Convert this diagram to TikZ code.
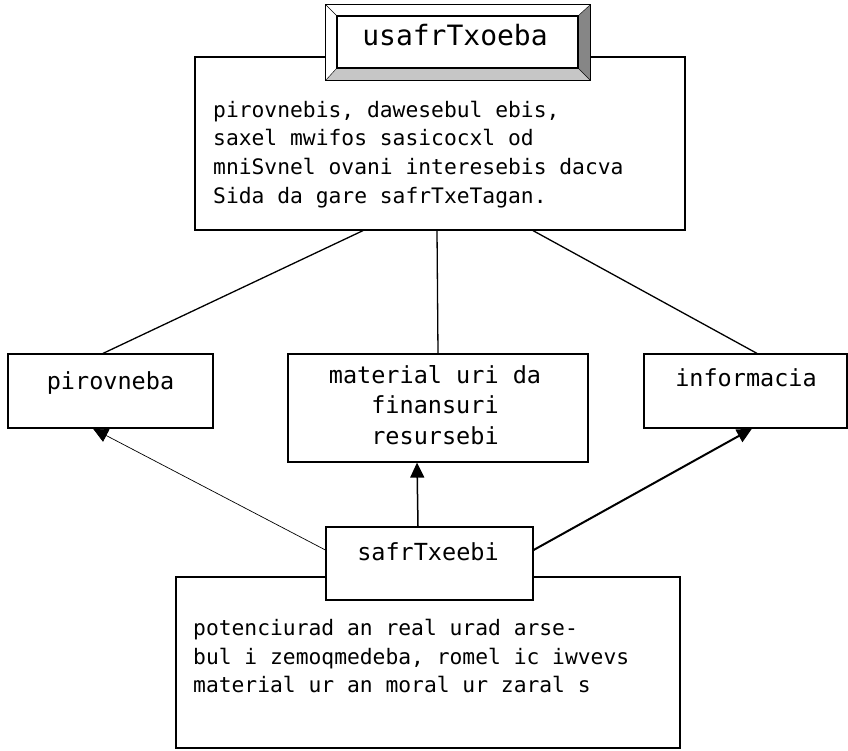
\documentclass[tikz,border=0pt]{standalone}
\usepackage{fontspec}
\setmonofont{DejaVu Sans Mono}
\usetikzlibrary{arrows.meta,positioning}

\begin{document}
\begin{tikzpicture}[x=1pt,y=-1pt,
    box/.style={draw, line width=1.2pt, fill=white, inner sep=0pt},
    link/.style={line width=1.3pt},
    arr/.style={-{Triangle[length=15pt,width=14pt]}},
    bodytext/.style={font=\ttfamily\fontsize{21.3}{28.7}\selectfont, inner sep=0pt, align=left, anchor=north west},
    celltext/.style={font=\ttfamily\fontsize{23.5}{30.5}\selectfont, inner sep=0pt}]
    \useasboundingbox (0,0) rectangle (848,750);
    % top box with bevelled title
    \node[box, minimum width=490pt, minimum height=173pt] (risk) at (440,143.5) {};
    \node[box, minimum width=241pt, minimum height=52pt] (title) at (457.5,42) {};
    \coordinate (oNW) at ([shift={(-11pt,11pt)}]title.north west);
    \coordinate (oNE) at ([shift={(12pt,11pt)}]title.north east);
    \coordinate (oSE) at ([shift={(12pt,-12pt)}]title.south east);
    \coordinate (oSW) at ([shift={(-11pt,-12pt)}]title.south west);
    \fill[white] (oNW) -- (oNE) -- (title.north east) -- (title.north west) -- cycle;
    \fill[white] (oNW) -- (oSW) -- (title.south west) -- (title.north west) -- cycle;
    \fill[gray!95] (oNE) -- (oSE) -- (title.south east) -- (title.north east) -- cycle;
    \fill[gray!45] (oSW) -- (oSE) -- (title.south east) -- (title.south west) -- cycle;
    \draw[line width=1.2pt] (oNW) -- (oNE) -- (oSE) -- (oSW) -- cycle;
    \draw[line width=1.2pt] (title.north west) rectangle (title.south east);
    \draw (oNW) -- (title.north west);
    \draw (oNE) -- (title.north east);
    \draw (oSE) -- (title.south east);
    \draw (oSW) -- (title.south west);
    \node[celltext, font=\ttfamily\fontsize{28}{30}\selectfont, anchor=base] (titleT) at (455,45) {usafrTxoeba};
    \node[bodytext] (riskT) at (213,100.5) {pirovnebis, dawesebul ebis,\\saxel mwifos sasicocxl od\\mniSvnel ovani interesebis dacva\\Sida da gare safrTxeTagan.};
    % middle row
    \node[box, minimum width=205pt, minimum height=74pt] (pers) at (110.5,391) {};
    \node[box, minimum width=300pt, minimum height=108pt] (mat) at (438,408) {};
    \node[box, minimum width=203pt, minimum height=74pt] (info) at (745.5,391) {};
    \node[celltext, anchor=base] (persT) at (110.5,389) {pirovneba};
    \node[celltext, align=center, anchor=north] (matT) at (435,365) {material uri da\\finansuri\\resursebi};
    \node[celltext, anchor=base] (infoT) at (746,386) {informacia};
    % bottom box
    \node[box, minimum width=504pt, minimum height=171pt] (harm) at (428,662.5) {};
    \node[box, minimum width=207pt, minimum height=73pt] (threat) at (429.5,563.5) {};
    \node[celltext, anchor=base] (threatT) at (428,560) {safrTxeebi};
    \node[bodytext] (harmT) at (193,619) {potenciurad an real urad arse-\\bul i zemoqmedeba, romel ic iwvevs\\material ur an moral ur zaral s};
    % connectors
    \draw[link] ([xshift=-77pt]risk.south) -- ([xshift=-7.5pt]pers.north);
    \draw[link] ([xshift=-3pt]risk.south) -- (mat.north);
    \draw[link] ([xshift=93pt]risk.south) -- ([xshift=11.5pt]info.north);
    \draw[arr, line width=0.7pt] ([yshift=13.5pt]threat.west) -- ([xshift=-17.5pt]pers.south);
    \draw[arr, line width=1.5pt] ([xshift=-11.5pt]threat.north) -- ([xshift=-21pt]mat.south);
    \draw[arr, line width=2pt] ([yshift=13.5pt]threat.east) -- ([xshift=6.5pt]info.south);
\end{tikzpicture}
\end{document}
